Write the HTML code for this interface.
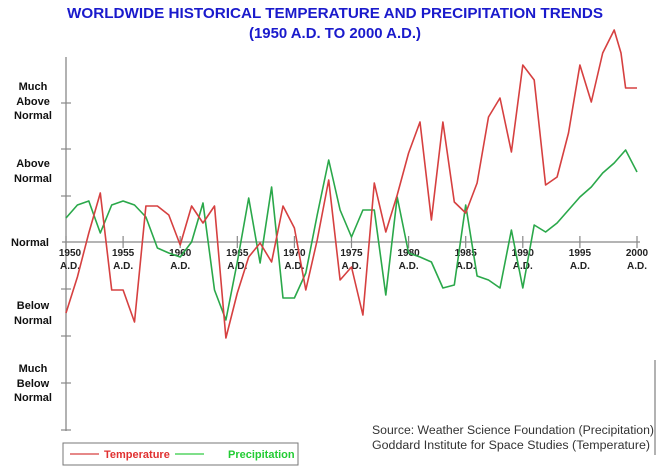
<!DOCTYPE html>
<html><head><meta charset="utf-8"><style>
body{margin:0;background:#fff;}
svg{display:block;font-family:"Liberation Sans",sans-serif;}
</style></head><body>
<svg id="s" width="660" height="467" viewBox="0 0 660 467">
<text x="335" y="18" text-anchor="middle" font-size="15" font-weight="bold" fill="#1a1acc" textLength="536" lengthAdjust="spacingAndGlyphs">WORLDWIDE HISTORICAL TEMPERATURE AND PRECIPITATION TRENDS</text>
<text x="335" y="38" text-anchor="middle" font-size="15" font-weight="bold" fill="#1a1acc" textLength="172" lengthAdjust="spacingAndGlyphs">(1950 A.D. TO 2000 A.D.)</text>
<g stroke="#888" stroke-width="1.3" fill="none">
<line x1="66" y1="57" x2="66" y2="431"/>
<line x1="62" y1="242" x2="640" y2="242"/>
<line x1="655" y1="360" x2="655" y2="455"/>
</g>
<g id="ticks" stroke="#888" stroke-width="1.2"></g>
<g font-size="11" font-weight="bold" fill="#111" text-anchor="middle">
<text x="33" y="90">Much</text><text x="33" y="105">Above</text><text x="33" y="119">Normal</text>
<text x="33" y="167">Above</text><text x="33" y="182">Normal</text>
<text x="30" y="246">Normal</text>
<text x="33" y="309">Below</text><text x="33" y="324">Normal</text>
<text x="33" y="372">Much</text><text x="33" y="387">Below</text><text x="33" y="401">Normal</text>
</g>
<g id="yl" font-size="10" font-weight="bold" fill="#222" text-anchor="middle"></g>
<polyline id="g" fill="none" stroke="#2aa84a" stroke-width="1.6" stroke-linejoin="round"/>
<polyline id="r" fill="none" stroke="#d64040" stroke-width="1.6" stroke-linejoin="round"/>
<rect x="63" y="443" width="235" height="22" fill="none" stroke="#777" stroke-width="1"/>
<line x1="70" y1="454" x2="99" y2="454" stroke="#d64040" stroke-width="1.2"/>
<text x="104" y="458" font-size="11" font-weight="bold" fill="#e03030">Temperature</text>
<line x1="175" y1="454" x2="204" y2="454" stroke="#33cc44" stroke-width="1.2"/>
<text x="228" y="458" font-size="11" font-weight="bold" fill="#22cc33">Precipitation</text>
<text x="372" y="434" font-size="11.5" fill="#333" textLength="282" lengthAdjust="spacingAndGlyphs">Source: Weather Science Foundation (Precipitation)</text>
<text x="372" y="449" font-size="11.5" fill="#333" textLength="278" lengthAdjust="spacingAndGlyphs">Goddard Institute for Space Studies (Temperature)</text>
</svg>
<script>
var X=function(i){return 66+i*11.42;};
var R=[313,277,233,193,290,290,322,206,206,215,245,206,223,206,338,293,257,243,262,206,228,290,240,180,280,267,315,183,232,195,153,122,220,122,202,213,183,117,98,152,65,80,185,177,133,65,102,53,30,88,88];
var G=[218,205,201,233,205,201,205,217,248,253,257,242,203,290,320,262,198,263,187,298,298,273,215,160,210,237,210,210,295,197,253,257,262,288,285,205,276,280,288,230,288,225,232,223,210,197,187,173,163,150,172];
function pts(a,extra){var p=[];for(var i=0;i<a.length;i++){p.push([X(i),a[i]]);if(extra&&i==48)p.push([X(48.6),53]);}return p.map(function(q){return q[0].toFixed(1)+","+q[1];}).join(" ");}
document.getElementById('r').setAttribute('points',pts(R,true));
document.getElementById('g').setAttribute('points',pts(G,false));
var t=document.getElementById('ticks'),ns="http://www.w3.org/2000/svg",yl=document.getElementById('yl');
[103,149,196,289,336,383,430].forEach(function(y){var l=document.createElementNS(ns,'line');l.setAttribute('x1',61);l.setAttribute('x2',71);l.setAttribute('y1',y);l.setAttribute('y2',y);t.appendChild(l);});
for(var k=0;k<=10;k++){var x=X(k*5);var l=document.createElementNS(ns,'line');l.setAttribute('x1',x);l.setAttribute('x2',x);l.setAttribute('y1',236);l.setAttribute('y2',248);t.appendChild(l);
var a=document.createElementNS(ns,'text');a.setAttribute('x',x+(k==0?4:0));a.setAttribute('y',256);a.textContent=1950+k*5;yl.appendChild(a);
var b=document.createElementNS(ns,'text');b.setAttribute('x',x+(k==0?4:0));b.setAttribute('y',269);b.textContent="A.D.";yl.appendChild(b);}
</script>
</body></html>
